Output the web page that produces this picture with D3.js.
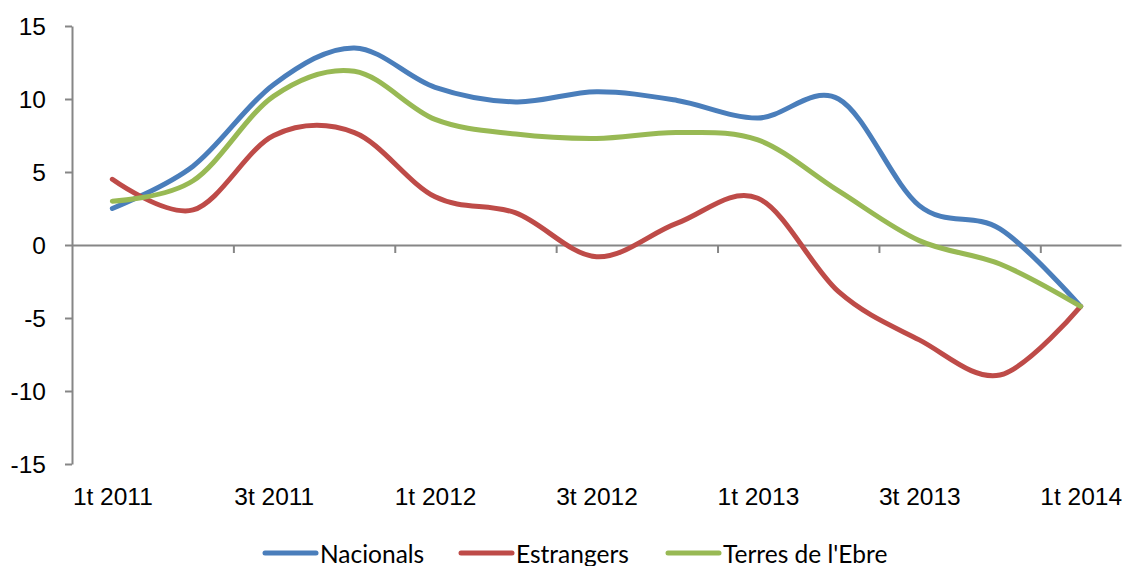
<!DOCTYPE html>
<meta charset="utf-8">
<style>
body { margin: 0; background: #fff; }
svg { display: block; font-family: Lato, "Liberation Sans", sans-serif; }
.axis path, .axis line { stroke: #868686; stroke-width: 2px; }
.axis text { fill: #000; font-size: 24.5px; }
.serie { fill: none; stroke-width: 5px; stroke-linecap: round; }
</style>
<svg width="1124" height="566"></svg>
<script src="https://d3js.org/d3.v7.min.js"></script>
<script>

// trimestres
var quarters = ["1t 2011", "2t 2011", "3t 2011", "4t 2011",
                "1t 2012", "2t 2012", "3t 2012", "4t 2012",
                "1t 2013", "2t 2013", "3t 2013", "4t 2013", "1t 2014"];

// variació interanual (%)
var nacionals  = [2.5, 5.4, 11.0, 13.5, 10.8, 9.8, 10.5, 9.9, 8.7, 10.0, 2.7, 1.1, -4.2];
var estrangers = [4.5, 2.4, 7.5, 7.7, 3.3, 2.2, -0.8, 1.5, 3.2, -3.2, -6.5, -8.9, -4.2];
var terres     = [3.0, 4.4, 10.2, 11.9, 8.6, 7.6, 7.3, 7.7, 7.2, 3.7, 0.3, -1.3, -4.2];

var seriesNames = ["Nacionals", "Estrangers", "Terres de l'Ebre"];
var seriesColors = ["#4a7ebb", "#be4b48", "#98b954"];
var yTicks = [15, 10, 5, 0, -5, -10, -15];

var svg = d3.select("svg");

var plotLeft = 72, plotRight = 1121, plotTop = 26, plotBottom = 464;

var x = d3.scalePoint().domain(quarters).range([plotLeft, plotRight]).padding(0.5);
var xb = d3.scaleLinear().domain([0, quarters.length]).range([plotLeft, plotRight]);
var y = d3.scaleLinear().domain([-15, 15]).range([plotBottom, plotTop]);

// eix vertical (guió normal, com a l'original)
svg.append("g")
    .attr("class", "axis")
    .attr("transform", "translate(" + plotLeft + ",0)")
    .call(d3.axisLeft(y).tickValues(yTicks).tickSize(7).tickSizeOuter(0).tickPadding(19)
        .tickFormat(function(d) { return String(d); }))
    .selectAll("text").attr("dy", "0.36em");

// eix horitzontal a y = 0, marques entre categories cada 2
svg.append("g")
    .attr("class", "axis")
    .attr("transform", "translate(0," + y(0) + ")")
    .call(d3.axisBottom(xb).tickValues([2, 4, 6, 8, 10, 12]).tickSize(8).tickSizeOuter(0).tickFormat(""));

// etiquetes de categoria a baix
var lab = svg.append("g")
    .attr("class", "axis")
    .attr("transform", "translate(0," + plotBottom + ")")
    .call(d3.axisBottom(x)
        .tickValues(quarters.filter(function(d, i) { return i % 2 === 0; }))
        .tickSize(0).tickPadding(24));
lab.select(".domain").remove();

var line = d3.line()
    .x(function(d, i) { return x(quarters[i]); })
    .y(function(d) { return y(d); })
    .curve(d3.curveCardinal.tension(0));

[nacionals, estrangers, terres].forEach(function(vals, k) {
  svg.append("path")
      .attr("class", "serie")
      .attr("stroke", seriesColors[k])
      .attr("d", line(vals));
});

// llegenda
var legX = [262, 458, 665];
var leg = svg.append("g");
seriesNames.forEach(function(name, k) {
  leg.append("line")
      .attr("x1", legX[k] + 3).attr("x2", legX[k] + 54)
      .attr("y1", 553).attr("y2", 553)
      .attr("stroke", seriesColors[k])
      .attr("stroke-width", 5)
      .attr("stroke-linecap", "round");
  leg.append("text")
      .attr("x", legX[k] + 58)
      .attr("y", 563)
      .attr("font-size", 24.5)
      .text(name);
});

</script>
